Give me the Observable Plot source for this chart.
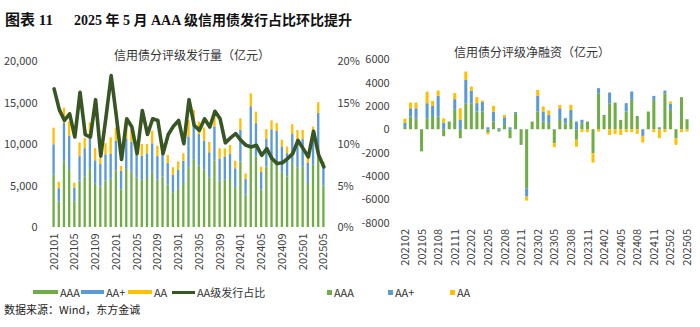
<!DOCTYPE html>
<html><head><meta charset="utf-8">
<script src="https://cdn.jsdelivr.net/npm/d3@7"></script>
<script src="https://cdn.jsdelivr.net/npm/@observablehq/plot@0.6"></script>
<style>
body{margin:0;background:#fff;}
#root{position:relative;width:700px;height:327px;overflow:hidden;background:#fff;font-family:"Noto Sans CJK SC","Noto Sans",sans-serif;color:#333;}
.abs{position:absolute;white-space:nowrap;}
#title{left:5px;top:8px;font-family:"Liberation Serif","Noto Sans CJK SC",serif;font-weight:bold;font-size:14px;color:#111;}
.ctitle{font-size:12px;color:#333;}
.leg{font-size:11px;color:#333;display:flex;align-items:center;}
.sw{display:inline-block;margin-right:2px;}
#src{left:4px;top:301px;font-size:11px;color:#222;}
#left,#right{position:absolute;}
</style></head><body>
<div id="root">
  <div id="title" class="abs"><span style="font-size:15px">图表 11</span><span style="display:inline-block;width:21px"></span>2025 年 5 月 AAA 级信用债发行占比环比提升</div>
  <div class="abs ctitle" style="left:114px;top:46px;">信用债分评级发行量（亿元）</div>
  <div class="abs ctitle" style="left:454px;top:43px;">信用债分评级净融资（亿元）</div>
  <div id="left"></div>
  <div id="right"></div>
  <div class="abs leg" style="left:33px;top:284px;"><span class="sw" style="width:25px;height:4px;background:#70AD47"></span>AAA</div>
  <div class="abs leg" style="left:81px;top:284px;"><span class="sw" style="width:23px;height:4px;background:#5B9BD5"></span>AA+</div>
  <div class="abs leg" style="left:128px;top:284px;"><span class="sw" style="width:24px;height:4px;background:#FFC000"></span>AA</div>
  <div class="abs leg" style="left:172px;top:284px;"><span class="sw" style="width:23px;height:3px;background:#375623"></span>AA级发行占比</div>
  <div class="abs leg" style="left:327px;top:284px;"><span class="sw" style="width:5px;height:5px;background:#70AD47"></span>AAA</div>
  <div class="abs leg" style="left:388px;top:284px;"><span class="sw" style="width:5px;height:5px;background:#5B9BD5"></span>AA+</div>
  <div class="abs leg" style="left:450px;top:284px;"><span class="sw" style="width:5px;height:5px;background:#FFC000"></span>AA</div>
  <div id="src" class="abs">数据来源：Wind，东方金诚</div>
</div>
<script>
// ---------- Left panel: issuance by rating (亿元) ----------
const issueMonths = ["202101","202102","202103","202104","202105","202106","202107","202108","202109","202110","202111","202112",
"202201","202202","202203","202204","202205","202206","202207","202208","202209","202210","202211","202212",
"202301","202302","202303","202304","202305","202306","202307","202308","202309","202310","202311","202312",
"202401","202402","202403","202404","202405","202406","202407","202408","202409","202410","202411","202412",
"202501","202502","202503","202504","202505"];
const aaaIssue = [6300,3050,7900,7000,3100,5600,6100,7000,5200,4900,5600,5800,6800,4500,7000,6700,6000,5700,5900,6600,5700,6100,5100,4200,4600,5300,7200,8100,7400,6900,6000,8000,5600,5700,5900,4800,7900,3900,9600,8500,4500,7300,8000,7900,6600,6100,7700,7200,7300,5300,7500,9300,5000];
const aaPlusIssue = [3670,1630,4630,3960,1660,2940,3400,4230,2840,2690,3160,3020,3570,2250,3690,3580,3200,2890,2980,3480,2840,3100,2610,2120,2280,2680,3710,4270,3810,3520,3000,4130,2640,2810,2910,2270,3820,1930,4950,4020,2140,3370,3780,3670,3100,2800,3590,3260,3290,2420,3200,4440,2300];
const aaIssue = [2000,780,1850,1740,580,1660,1200,1370,1460,710,1340,1980,1600,600,1610,1420,900,1410,1120,1520,1260,900,970,880,1020,900,1990,1730,1480,1570,1240,1970,1240,970,1070,900,1370,640,1560,1380,630,1120,1070,960,820,800,1100,1230,1110,720,1400,1310,570];
const aaShare = [16.7,14.2,12.9,13.7,10.9,16.3,11.2,10.9,15.4,8.6,13.3,18.3,13.4,8.2,13.1,12.1,8.9,14.1,11.2,13.1,12.9,8.9,11.2,12.2,12.9,10.1,15.4,12.3,11.7,13.1,12.1,14.0,13.1,10.2,10.8,11.3,10.5,9.9,9.7,9.9,8.7,9.5,8.3,7.7,7.8,8.3,8.9,10.5,9.5,8.5,11.6,8.7,7.3];
const leftYTicks = [0,5000,10000,15000,20000];
const leftPctTicks = [0,5,10,15,20];
const leftXTicks = ["202101","202105","202109","202201","202205","202209","202301","202305","202309","202401","202405","202409","202501","202505"];

// ---------- Right panel: net financing by rating (亿元) ----------
const netMonths = ["202102","202103","202104","202105","202106","202107","202108","202109","202110","202111","202112",
"202201","202202","202203","202204","202205","202206","202207","202208","202209","202210","202211","202212",
"202301","202302","202303","202304","202305","202306","202307","202308","202309","202310","202311","202312",
"202401","202402","202403","202404","202405","202406","202407","202408","202409","202410","202411","202412",
"202501","202502","202503","202504","202505"];
const aaaNet = [200,1090,940,-1900,940,1140,1090,-600,660,1660,-770,2230,2230,1520,1520,-300,660,-200,370,-770,1370,-1340,-5060,660,1520,660,520,-1200,800,500,800,-900,520,660,-2060,3090,1230,2230,2290,800,1520,2520,1140,0,1520,2520,0,3090,1660,-770,2750,860];
const aaPlusNet = [340,710,860,0,1290,860,1770,570,0,920,800,2000,1090,720,830,170,860,100,660,170,110,0,-720,0,1340,860,720,0,1000,450,860,660,290,0,0,430,0,920,0,0,720,720,0,-570,0,340,170,230,520,0,0,0];
const aaNet = [370,490,490,0,1000,430,460,370,0,520,1000,720,340,520,120,-130,490,0,200,0,0,0,-340,0,520,430,370,-340,290,0,430,-600,-250,-250,-800,-200,0,-490,-400,-490,-250,-250,-400,-570,0,-250,-770,-250,200,-570,-250,-200];
const rightYTicks = [-8000,-6000,-4000,-2000,0,2000,4000,6000];
const rightXTicks = ["202102","202105","202108","202111","202202","202205","202208","202211","202302","202305","202308","202311","202402","202405","202408","202411","202502","202505"];

const ratings = ["AAA","AA+","AA"];
const colors = ["#70AD47","#5B9BD5","#FFC000"];
const lineColor = "#375623";

const issueRows = [];
issueMonths.forEach((m,i)=>{
  issueRows.push({month:m, rating:"AAA", value:aaaIssue[i]});
  issueRows.push({month:m, rating:"AA+", value:aaPlusIssue[i]});
  issueRows.push({month:m, rating:"AA", value:aaIssue[i]});
});
const shareRows = issueMonths.map((m,i)=>({month:m, share:aaShare[i]}));

const netRows = [];
netMonths.forEach((m,i)=>{
  netRows.push({month:m, rating:"AAA", value:aaaNet[i]});
  netRows.push({month:m, rating:"AA+", value:aaPlusNet[i]});
  netRows.push({month:m, rating:"AA", value:aaNet[i]});
});

const axisStyle = {fontFamily:'"Noto Sans CJK SC","Noto Sans",sans-serif', fontSize:"11px", color:"#404040", background:"transparent", overflow:"visible"};

const left = Plot.plot({
  width: 360, height: 225,
  marginTop: 11, marginBottom: 48, marginLeft: 51, marginRight: 34,
  style: axisStyle,
  x: {type:"band", domain: issueMonths, paddingInner: 0.55, paddingOuter: 0.275, round: false, axis: null},
  y: {domain:[0,20000], axis: null},
  color: {domain: ratings, range: colors},
  marks: [
    Plot.barY(issueRows, {x:"month", y:"value", fill:"rating", order: ratings}),
    Plot.line(shareRows, {x:"month", y: d => d.share*1000, stroke: lineColor, strokeWidth: 3.6, strokeLinejoin:"round"}),
    Plot.axisY({anchor:"left", label: null, ticks: leftYTicks, tickFormat: d3.format(","), tickSize: 0, tickPadding: 14}),
    Plot.axisY({anchor:"right", label: null, ticks: leftPctTicks.map(p=>p*1000), tickFormat: d => (d/1000)+"%", tickSize: 0, tickPadding: 11}),
    Plot.axisX({label: null, ticks: leftXTicks, tickRotate: -90, tickSize: 0, tickPadding: 6})
  ]
});
const ld = document.getElementById("left");
ld.style.left = "0px"; ld.style.top = "50px";
ld.appendChild(left);

const right = Plot.plot({
  width: 350, height: 235,
  marginTop: 19.3, marginBottom: 52.5, marginLeft: 52.2, marginRight: 10.2,
  style: axisStyle,
  x: {type:"band", domain: netMonths, paddingInner: 0.45, paddingOuter: 0.225, round: false, axis: null},
  y: {domain:[-8000,6000], axis: null},
  color: {domain: ratings, range: colors},
  marks: [
    Plot.barY(netRows, {x:"month", y:"value", fill:"rating", order: ratings}),
    Plot.axisY({anchor:"left", label: null, ticks: rightYTicks, tickFormat: d => String(d), tickSize: 0, tickPadding: 13}),
    Plot.axisX({label: null, ticks: rightXTicks, tickRotate: -90, tickSize: 0, tickPadding: 6})
  ]
});
const rd = document.getElementById("right");
rd.style.left = "350px"; rd.style.top = "40px";
rd.appendChild(right);
</script>
</body></html>
